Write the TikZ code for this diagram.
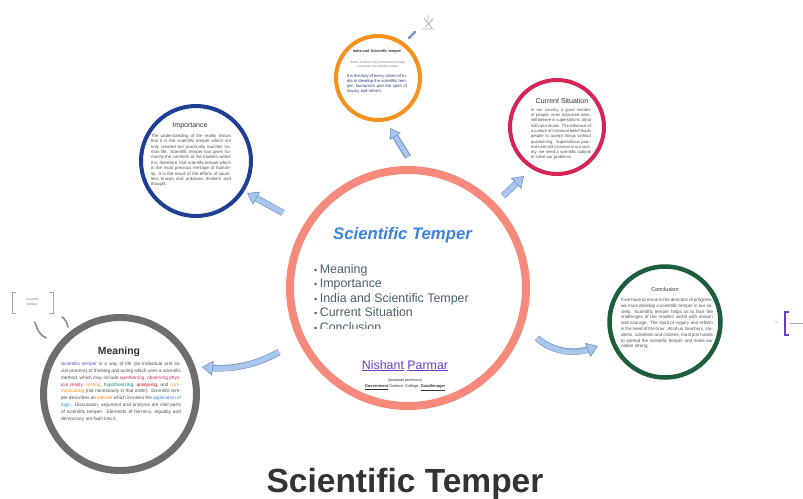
\documentclass[tikz,border=0pt]{standalone}
\usepackage{fontspec}
\setmainfont{Liberation Sans}
\usetikzlibrary{arrows.meta}
\definecolor{salmon}{HTML}{F58A7C}
\definecolor{ringblue}{HTML}{1F3F95}
\definecolor{ringorange}{HTML}{F5921E}
\definecolor{ringred}{HTML}{D62456}
\definecolor{ringgreen}{HTML}{1D5E3C}
\definecolor{ringgray}{HTML}{6E6E6E}
\definecolor{arrowfill}{HTML}{A9C6EC}
\definecolor{arrowedge}{HTML}{7B9CCB}
\definecolor{ctblue}{HTML}{3B82E0}
\definecolor{listgray}{HTML}{4A5F6A}
\definecolor{namepurple}{HTML}{6B3FC4}
\definecolor{bodygray}{HTML}{505050}
\definecolor{titlegray}{HTML}{333333}
\definecolor{navytext}{HTML}{2A3A7A}
\begin{document}
\begin{tikzpicture}[x=1pt,y=-1pt,
  ring/.style={circle, inner sep=0pt, fill=white},
  body/.style={font=\fontsize{4.4}{5.4}\selectfont, text=bodygray, align=justify, inner sep=0pt, anchor=north},
  ctitle/.style={text=titlegray, inner sep=0pt},
  listitem/.style={font=\fontsize{12.4}{14}\selectfont, text=listgray, inner sep=0pt, anchor=base west},
  fat/.style={draw=arrowfill, line width=5pt,
    -{Triangle[length=11pt,width=15pt,line width=0.8pt,color=arrowedge,fill=arrowfill]},
    preaction={arrows=-, draw=arrowedge, line width=6.6pt, shorten >=6pt}},
  smallline/.style={draw=ringgray!80, line width=1.6pt, line cap=round}]
\useasboundingbox[fill=white] (0,0) rectangle (803,498);
\newcommand{\smallbullet}{{\fontsize{9}{9}\selectfont\textbullet}\hspace{2.5pt}}

% rings
\node[ring, draw=salmon, line width=8pt, minimum size=236pt] (center) at (408,288) {};
\node[ring, draw=ringblue, line width=4pt, minimum size=110pt] (imp) at (196,161) {};
\node[ring, draw=ringorange, line width=4pt, minimum size=84pt] (india) at (378,78) {};
\node[ring, draw=ringred, line width=4pt, minimum size=94pt] (cur) at (557,127) {};
\node[ring, draw=ringgreen, line width=4.5pt, minimum size=111pt] (conc) at (665,322) {};
\node[ring, draw=ringgray, line width=7pt, minimum size=153pt] (mean) at (120,394) {};

% arrows
\coordinate (a1s) at (283,213); \coordinate (a1e) at (247,193);
\coordinate (a2s) at (408,157); \coordinate (a2e) at (390,128);
\coordinate (a3s) at (503,196); \coordinate (a3e) at (524,176);
\coordinate (a4s) at (537,338); \coordinate (a4e) at (598,346);
\coordinate (a5s) at (279,352); \coordinate (a5e) at (202,367);
\draw[fat] (a1s) -- (a1e);
\draw[fat, line width=4pt, -{Triangle[length=10pt,width=13pt,line width=0.8pt,color=arrowedge,fill=arrowfill]}] (a2s) -- (a2e);
\draw[fat] (a3s) -- (a3e);
\draw[fat] (a4s) .. controls (552,352) and (575,355) .. (a4e);
\draw[fat] (a5s) .. controls (255,366) and (228,370) .. (a5e);

% centre text
\node[font=\fontsize{16.7}{18}\bfseries\itshape\selectfont, text=ctblue, inner sep=0pt, anchor=base] (ctitle) at (402.5,239) {Scientific Temper};
\begin{scope}
\clip (300,250) rectangle (520,328);
\node[listitem] (l1) at (314,273) {\smallbullet Meaning};
\node[listitem] (l2) at (314,287.5) {\smallbullet Importance};
\node[listitem] (l3) at (314,302) {\smallbullet India and Scientific Temper};
\node[listitem] (l4) at (314,316.5) {\smallbullet Current Situation};
\node[listitem] (l5) at (314,331) {\smallbullet Conclusion};
\end{scope}
\node[font=\fontsize{12.4}{14}\selectfont, text=namepurple, inner sep=0pt, anchor=base] (name) at (405,369) {\underline{Nishant} \underline{Parmar}};
\node[font=\fontsize{3.8}{4.5}\selectfont, text=titlegray, inner sep=0pt] (post) at (405,381) {(assistant professor)};
\node[font=\fontsize{4}{4.5}\selectfont, text=titlegray, inner sep=0pt] (coll) at (405,387.5) {\textbf{\underline{Government}} Science College, \textbf{\underline{Gandhinagar}}};

% Importance
\node[ctitle, font=\fontsize{7}{8}\selectfont] (impT) at (190,126) {Importance};
\node[body, text width=80pt] (impB) at (191,134) {The understanding of the reality shows that it is the scientific temper which not only created but practically touches human life. Scientific temper has given humanity the comforts of the modern world. It is, therefore, that scientific temper which is the most precious heritage of humanity. It is the result of the efforts of countless known and unknown thinkers and thought.};

% India and Scientific temper
\node[font=\fontsize{3.8}{4.5}\bfseries\selectfont, text=titlegray, inner sep=0pt] (indT) at (377,52) {India and Scientific temper};
\node[font=\fontsize{3}{3.6}\selectfont, text=bodygray!80, align=center, inner sep=0pt] (indS) at (378,64.5) {Article 51A(h) of the Constitution of India:\\to develop the scientific temper};
\node[body, font=\fontsize{4.2}{5}\selectfont, text=navytext, text width=60pt] (indB) at (377,74) {It is the duty of every citizen of India to develop the scientific temper, humanism and the spirit of inquiry and reform.};

% Current Situation
\node[ctitle, font=\fontsize{7}{8}\selectfont] (curT) at (562,101) {Current Situation};
\node[body, font=\fontsize{4.2}{5.3}\selectfont, text width=60pt] (curB) at (561,108) {In our country a good number of people, even educated ones, still believe in superstitions, blind faith and rituals. The influence of a culture of irrational belief leads people to accept things without questioning. Superstitious practices are still common in our society; we need a scientific outlook to solve our problems.};

% Conclusion
\node[ctitle, font=\fontsize{5.5}{6}\selectfont] (concT) at (665,290) {Conclusion};
\node[body, font=\fontsize{4.6}{5.8}\selectfont, text width=92pt] (concB) at (667,298) {If we have to move in the direction of progress, we must develop a scientific temper in our society. Scientific temper helps us to face the challenges of the modern world with reason and courage. The spirit of inquiry and reform is the need of the hour. All of us, teachers, students, scientists and citizens, must join hands to spread the scientific temper and make our nation strong.};

% Meaning
\node[font=\fontsize{10.4}{12}\bfseries\selectfont, text=titlegray, inner sep=0pt] (meanT) at (119,352) {Meaning};
\node[body, font=\fontsize{4.8}{6.8}\selectfont, text width=120pt] (meanB) at (121,362) {\textcolor{namepurple}{Scientific temper} is a way of life (an individual and social process) of thinking and acting which uses a scientific method, which may include \textcolor{ringred}{questioning, observing physical reality}, \textcolor{ringorange}{testing}, \textcolor{teal}{hypothesizing}, \textcolor{red!80!black}{analysing}, and \textcolor{ringorange}{communicating} (not necessarily in that order). Scientific temper describes an \textcolor{ringorange}{attitude} which involves the \textcolor{ctblue}{application of logic}. Discussion, argument and analysis are vital parts of scientific temper. Elements of fairness, equality and democracy are built into it.};

% small decorations
\draw[gray!70, line width=0.9pt] (16,292) -- (12,292) -- (12,313) -- (16,313);
\draw[gray!70, line width=0.9pt] (49,292) -- (53,292) -- (53,313) -- (49,313);
\node[font=\fontsize{3.5}{5}\selectfont, text=gray, align=center, inner sep=0pt] (brk) at (32.5,302.5) {scientific\\temper};
\draw[smallline] (35,322) .. controls (37,330) and (40,335) .. (46,338);
\draw[smallline] (62,317) .. controls (65,319) and (67,322) .. (68,327);
\draw[arrowedge, line width=2.5pt, line cap=round] (409,38) -- (415,32);
\draw[gray!60, line width=0.8pt] (424,18) -- (432,28) (425,27) -- (433,19) (428,15) -- (428,21) (422,29) -- (434,29);
\fill[gray!50] (776,322) circle (1pt);
\draw[namepurple, line width=1.4pt] (789,312) -- (785,312) -- (785,335) -- (789,335);
\draw[gray!70, line width=0.6pt] (790,323) -- (803,323);

% title
\node[font=\fontsize{33.5}{36}\bfseries\selectfont, text=titlegray, inner sep=0pt, anchor=base] (title) at (405,492) {Scientific Temper};
\end{tikzpicture}
\end{document}
